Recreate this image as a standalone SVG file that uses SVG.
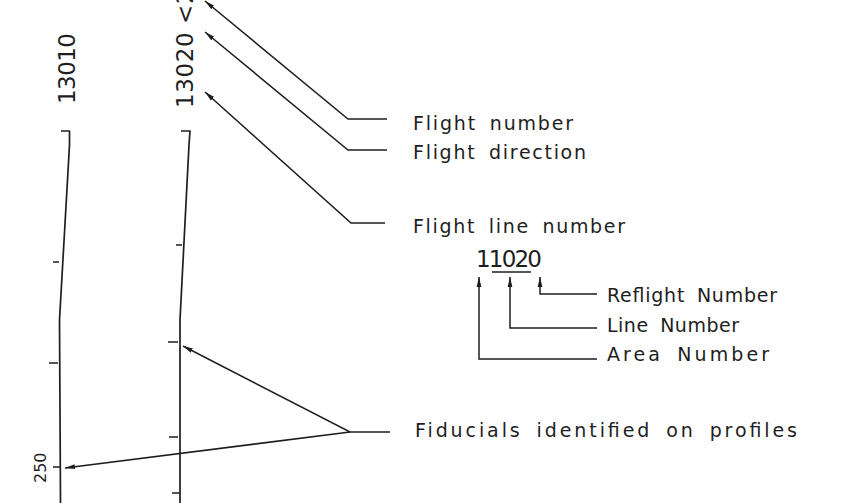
<svg xmlns="http://www.w3.org/2000/svg" width="867" height="503" viewBox="0 0 867 503">
<style>
  .ln{fill:none;stroke:#1e1e1e;stroke-width:1.7;stroke-linejoin:round}
  .tk{fill:none;stroke:#1e1e1e;stroke-width:1.5}
  .lab{font-family:"DejaVu Sans","Liberation Sans",sans-serif;font-size:19px;fill:#1e1e1e;word-spacing:5px}
  .num{font-family:"DejaVu Sans","Liberation Sans",sans-serif;font-size:23px;fill:#1e1e1e}
  .con{fill:none;stroke:#1e1e1e;stroke-width:1.5;marker-end:url(#ah)}
</style>
<defs>
  <marker id="ah" viewBox="0 0 10 6" refX="10" refY="3" markerWidth="10" markerHeight="6" markerUnits="userSpaceOnUse" orient="auto">
    <path d="M0,0.6 L10,3 L0,5.4 z" fill="#1e1e1e"/>
  </marker>
</defs>
<rect width="867" height="503" fill="#ffffff"/>

<g id="profile-13010">
  <path class="ln" d="M61,131 H69.5 V145 L59.5,320 L60.5,503"/>
  <path class="tk" d="M53,262 H59 M49,363 H58 M53,467 H60"/>
  <text class="num" transform="translate(75,104) rotate(-90)" textLength="71" lengthAdjust="spacing">13010</text>
  <text class="num" transform="translate(46,483) rotate(-90)" style="font-size:16px">250</text>
</g>

<g id="profile-13020">
  <path class="ln" d="M181,131 H190 L189,145 L180,320 V503"/>
  <path class="tk" d="M176,245 H182 M168,342 H178 M169,437 H178 M172,493 H180"/>
  <text class="num" transform="translate(193,108) rotate(-90)" style="letter-spacing:0.6px">13020 &lt;2</text>
</g>

<g id="label-flight-number">
  <text class="lab" x="413" y="130" textLength="160" lengthAdjust="spacing">Flight number</text>
</g>
<g id="label-flight-direction">
  <text class="lab" x="413" y="159" textLength="173" lengthAdjust="spacing">Flight direction</text>
</g>
<g id="label-flight-line-number">
  <text class="lab" x="413" y="233" textLength="212" lengthAdjust="spacing">Flight line number</text>
</g>
<g id="code-11020">
  <text class="num" x="476" y="267" textLength="66" lengthAdjust="spacing">11020</text>
  <path class="tk" d="M492,272 H531"/>
</g>
<g id="label-reflight-number">
  <text class="lab" x="607" y="302" textLength="170" lengthAdjust="spacing">Reflight Number</text>
</g>
<g id="label-line-number">
  <text class="lab" x="607" y="332" textLength="132" lengthAdjust="spacing">Line Number</text>
</g>
<g id="label-area-number">
  <text class="lab" x="607" y="361" textLength="162" lengthAdjust="spacing">Area Number</text>
</g>
<g id="label-fiducials">
  <text class="lab" x="415" y="437" textLength="382" lengthAdjust="spacing">Fiducials identified on profiles</text>
</g>

<g id="connectors">
  <path class="con" d="M387,119 H348 L205,1"/>
  <path class="con" d="M387,150 H348 L205,32"/>
  <path class="con" d="M385,223 H351 L205,92"/>
  <path class="con" d="M597,294 H540 V277"/>
  <path class="con" d="M597,328 H510 V277"/>
  <path class="con" d="M597,359 H479 V277"/>
  <path class="con" d="M390,432 H350 L183,346"/>
  <path class="con" d="M350,432 L65,468"/>
</g>
</svg>
